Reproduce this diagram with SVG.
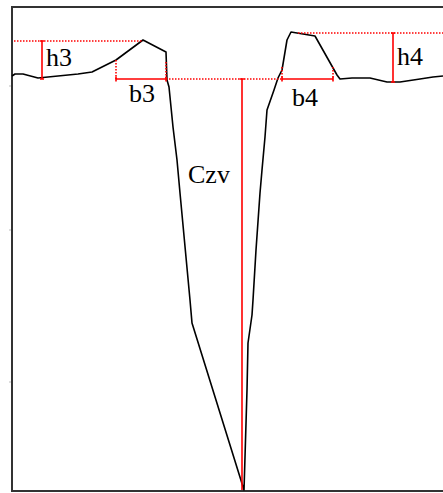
<svg xmlns="http://www.w3.org/2000/svg" width="443" height="493" viewBox="0 0 443 493">
<style>
.frame{fill:none;stroke:#333;stroke-width:2}
.prof{fill:none;stroke:#000;stroke-width:1.6;stroke-linejoin:round}
.dim{fill:none;stroke:#f00;stroke-width:1.6}
.dot{fill:none;stroke:#f00;stroke-width:1.6;stroke-dasharray:1.5 1.5}
.tick{stroke:#bbb;stroke-width:1}
text{font-family:"Liberation Serif","Times New Roman",serif;font-size:26px;fill:#000}
</style>
<rect width="443" height="493" fill="#fff"/>
<g id="frame">
<path class="frame" d="M443,7 H12 V491 H443"/>
<path class="tick" d="M9,86 H11 M9,230 H11 M9,382 H11"/>
</g>
<g id="profile">
<path class="prof" d="M12,76 L15,74 L23,74 L38,78 L48,77 L78,74 L92,72 L116,60 L143,40 L166,52 L167,80 L169,87 L173,127 L177,160 L180,193 L190,300 L192,323 L244,490 L245,457 L247,390 L248,343 L252,315 L253,300 L256,250 L260,193 L262,170 L265,137 L267,110 L274,90 L278,78 L282,70 L287,40 L291,32 L297,33 L315,36 L337,75 L340,79 L352,78 L370,78 L387,82 L400,82 L420,79 L433,77 L443,76"/>
</g>
<g id="connectors">
<path class="dot" d="M14,41 H143"/>
<path class="dot" d="M116,60 V79"/>
<path class="dot" d="M166,62 V79"/>
<path class="dot" d="M166,79 H282"/>
<path class="dot" d="M282,67 V79"/>
<path class="dot" d="M333,67 V79"/>
<path class="dot" d="M298,33 H443"/>
<path class="dim" d="M42,41 V79 M40,41 H44 M40,79 H44"/>
<path class="dim" d="M116,79 H166 M116,76.5 V81.5 M166,76.5 V81.5"/>
<path class="dim" d="M242,79 V490 M239.5,79 H244.5"/>
<path class="dim" d="M282,79 H333 M282,76.5 V81.5 M333,76.5 V81.5"/>
<path class="dim" d="M393,33 V82 M391,33 H395 M391,82 H395"/>
</g>
<g id="labels">
<text id="h3" x="46" y="66">h3</text>
<text id="b3" x="129" y="102">b3</text>
<text id="Czv" x="188" y="183">Czv</text>
<text id="b4" x="292" y="106">b4</text>
<text id="h4" x="397" y="65">h4</text>
</g>
</svg>
